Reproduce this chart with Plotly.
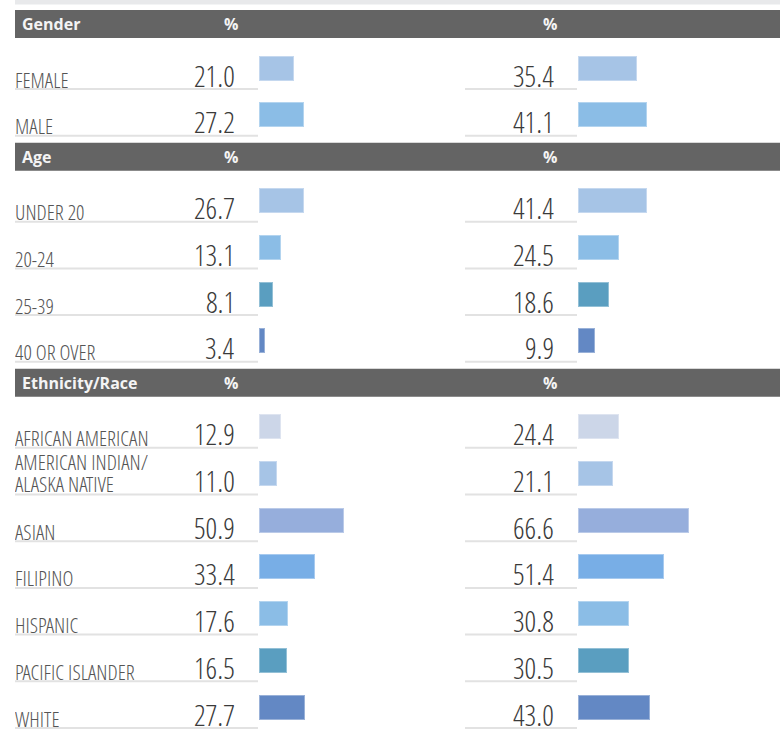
import plotly.graph_objects as go

# ---------------- data ----------------
sections = ["Gender", "Age", "Ethnicity/Race"]
gender_labels = ["FEMALE", "MALE"]
gender_left = [21.0, 27.2]
gender_right = [35.4, 41.1]
age_labels = ["UNDER 20", "20-24", "25-39", "40 OR OVER"]
age_left = [26.7, 13.1, 8.1, 3.4]
age_right = [41.4, 24.5, 18.6, 9.9]
eth_labels = ["AFRICAN AMERICAN", "AMERICAN INDIAN/<br>ALASKA NATIVE", "ASIAN", "FILIPINO",
              "HISPANIC", "PACIFIC ISLANDER", "WHITE"]
eth_left = [12.9, 11.0, 50.9, 33.4, 17.6, 16.5, 27.7]
eth_right = [24.4, 21.1, 66.6, 51.4, 30.8, 30.5, 43.0]
header_unit = "%"

gender_colors = ["#a6c4e6", "#8bbde6"]
age_colors = ["#a6c4e6", "#8bbde6", "#5a9ec0", "#6388c4"]
eth_colors = ["#ccd6e8", "#a6c4e6", "#96aedc", "#78aee6", "#8bbde6", "#5a9ec0", "#6388c4"]

groups = [
    (sections[0], gender_labels, gender_left, gender_right, gender_colors),
    (sections[1], age_labels, age_left, age_right, age_colors),
    (sections[2], eth_labels, eth_left, eth_right, eth_colors),
]

# ---------------- layout constants (pixels) ----------------
W, H = 780, 731
PX_PER_PCT = 1.67
PITCH = 46.7
HEADER_H = 28
BAR_H = 25
LEFT_BAR_X0 = 259
RIGHT_BAR_X0 = 578
LEFT_LINE_X0 = 15
RIGHT_LINE_X0 = 465
LEFT_VAL_X = 237
RIGHT_VAL_X = 556

LABEL_FONT = "Open Sans Condensed Light, Open Sans Condensed, Encode Sans Condensed, Roboto Condensed, Archivo Narrow, Liberation Sans Narrow, sans-serif"
HEAD_FONT = "Open Sans, Segoe UI, sans-serif"

fig = go.Figure()
shapes = []
annotations = []

def px(x):
    return x / W

# light top band
shapes.append(dict(type="rect", xref="paper", yref="y", x0=px(15), x1=1, y0=0, y1=4.5,
                   fillcolor="#e8e9eb", line=dict(width=0), layer="below"))

cursor = 10.0
for title, labels, lv, rv, cols in groups:
    # header band
    shapes.append(dict(type="rect", xref="paper", yref="y", x0=px(15), x1=1,
                       y0=cursor, y1=cursor + HEADER_H, fillcolor="#646464",
                       line=dict(width=0), layer="below"))
    annotations.append(dict(xref="paper", yref="y", x=px(20), y=cursor + HEADER_H / 2,
                            text=title, showarrow=False, xanchor="left", yanchor="middle",
                            font=dict(family=HEAD_FONT, size=16, color="#f4f4f4", weight="bold")))
    for xc in (231, 550):
        annotations.append(dict(xref="paper", yref="y", x=px(xc), y=cursor + HEADER_H / 2,
                                text=header_unit, showarrow=False, xanchor="center", yanchor="middle",
                                font=dict(family=HEAD_FONT, size=16, color="#f4f4f4", weight="bold")))
    top = cursor + HEADER_H + 17
    ys = [top + i * PITCH + 13 for i in range(len(labels))]
    bar_line = dict(color="rgba(255,255,255,0.35)", width=2)
    fig.add_trace(go.Bar(x=lv, y=ys, orientation="h", width=BAR_H, xaxis="x", yaxis="y",
                         marker=dict(color=cols, line=bar_line),
                         hoverinfo="skip", showlegend=False))
    fig.add_trace(go.Bar(x=rv, y=ys, orientation="h", width=BAR_H, xaxis="x2", yaxis="y",
                         marker=dict(color=cols, line=bar_line),
                         hoverinfo="skip", showlegend=False))
    for i, (lab, a, b) in enumerate(zip(labels, lv, rv)):
        yb = top + i * PITCH
        uline = yb + 34
        shapes.append(dict(type="line", xref="paper", yref="y", x0=px(LEFT_LINE_X0), x1=px(258),
                           y0=uline, y1=uline, line=dict(color="#e2e2e2", width=2)))
        shapes.append(dict(type="line", xref="paper", yref="y", x0=px(RIGHT_LINE_X0), x1=px(577),
                           y0=uline, y1=uline, line=dict(color="#e2e2e2", width=2)))
        parts = lab.split("<br>")
        if len(parts) == 1:
            offs = [24]
        else:
            offs = [0.5, 23]
        for part, off in zip(parts, offs):
            annotations.append(dict(xref="paper", yref="y", x=px(13), y=yb + off,
                                    text=part, showarrow=False, xanchor="left", yanchor="middle",
                                    align="left", height=21, valign="middle",
                                    font=dict(family=LABEL_FONT, size=21, color="#555555", weight=300)))
        for val, xv in ((a, LEFT_VAL_X), (b, RIGHT_VAL_X)):
            annotations.append(dict(xref="paper", yref="y", x=px(xv), y=yb + 19.5,
                                    text=f"{val:.1f}", showarrow=False, xanchor="right",
                                    yanchor="middle", height=30, valign="middle",
                                    font=dict(family=LABEL_FONT, size=29, color="#3a3a3a", weight=300)))
    cursor = top + (len(labels) - 1) * PITCH + 34 + 7

fig.update_layout(
    width=W, height=H, margin=dict(l=0, r=0, t=0, b=0),
    paper_bgcolor="white", plot_bgcolor="white",
    bargap=0, barmode="overlay",
    shapes=shapes, annotations=annotations,
    xaxis=dict(domain=[px(LEFT_BAR_X0), px(460)], range=[0, (460 - LEFT_BAR_X0) / PX_PER_PCT],
               visible=False, fixedrange=True),
    xaxis2=dict(domain=[px(RIGHT_BAR_X0), 1], range=[0, (W - RIGHT_BAR_X0) / PX_PER_PCT],
                visible=False, fixedrange=True, anchor="y"),
    yaxis=dict(domain=[0, 1], range=[H, 0], visible=False, fixedrange=True),
)

fig.write_html("out.html", config={"displayModeBar": False})
